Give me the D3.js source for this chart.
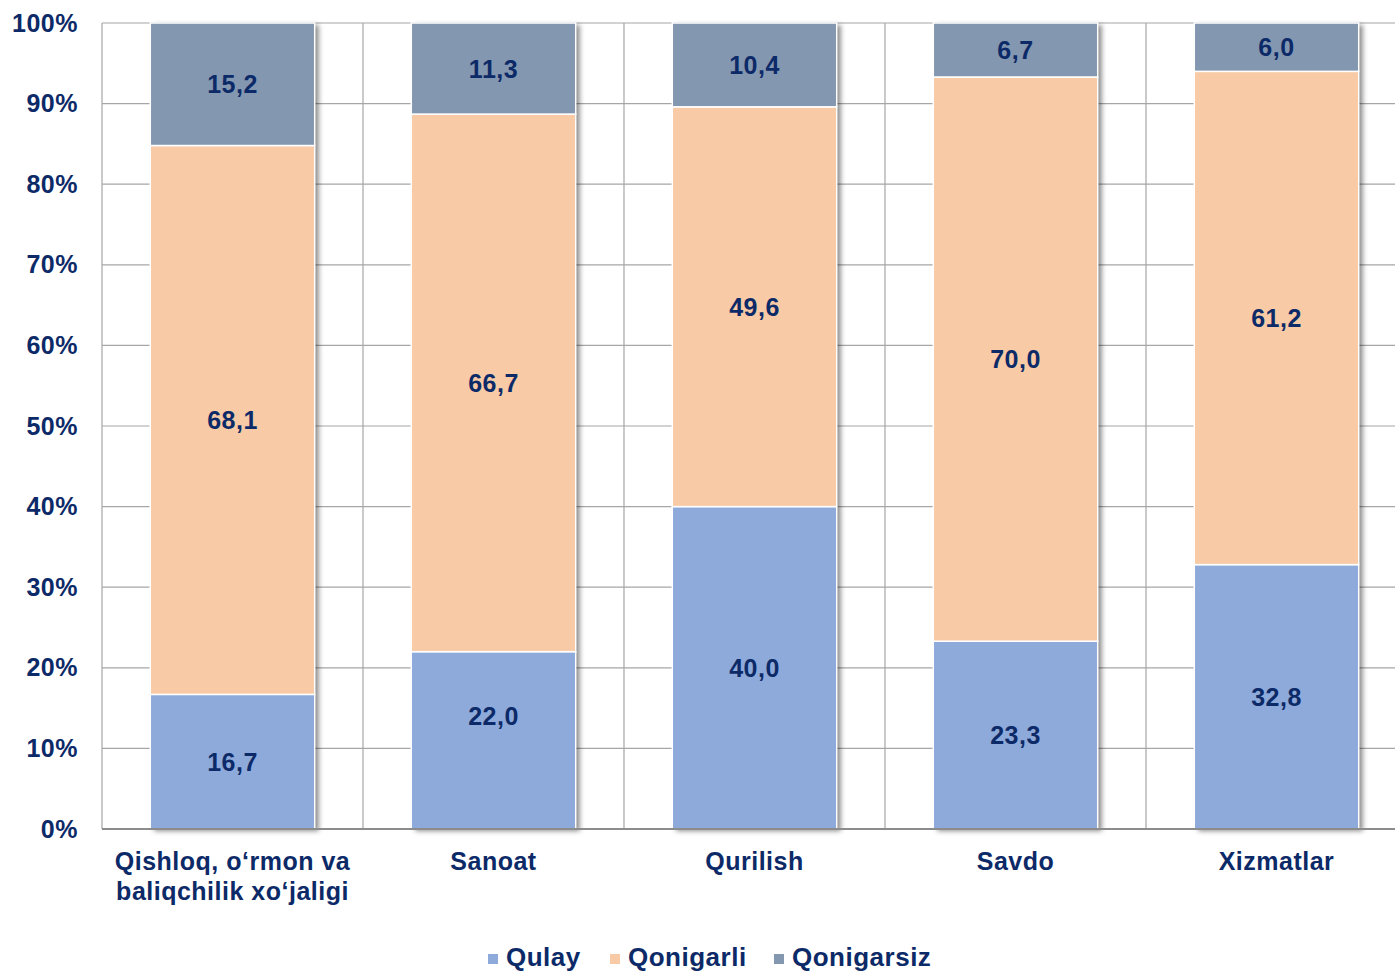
<!DOCTYPE html>
<html>
<head>
<meta charset="utf-8">
<script src="https://cdn.jsdelivr.net/npm/d3@7"></script>
<style>
  body { margin: 0; background: #fff; overflow: hidden; }
  svg { display: block; }
  text { font-family: "Liberation Sans", Arial, sans-serif; font-weight: bold; fill: #0d2a68; letter-spacing: 0.5px; }
</style>
</head>
<body>
<svg id="chart"></svg>
<script>
var categories = [["Qishloq, o\u2018rmon va", "baliqchilik xo\u2018jaligi"], ["Sanoat"], ["Qurilish"], ["Savdo"], ["Xizmatlar"]],
    seriesNames = ["Qulay", "Qonigarli", "Qonigarsiz"],
    qulay      = [16.7, 22.0, 40.0, 23.3, 32.8],
    qonigarli  = [68.1, 66.7, 49.6, 70.0, 61.2],
    qonigarsiz = [15.2, 11.3, 10.4, 6.7, 6.0],
    yTicks = [0, 10, 20, 30, 40, 50, 60, 70, 80, 90, 100],
    colors = ["#8eaadb", "#f8cba6", "#8497b0"];

var width = 1395, height = 973,
    margin = {top: 23, left: 102, bottom: 144},
    innerWidth = 1305,
    innerHeight = height - margin.top - margin.bottom;

// the one label that was nudged by hand in the original
var labelNudge = {"Sanoat|Qulay": -24};

var keys = categories.map(function(c){ return c.join(" "); });
var rows = keys.map(function(k, i){
  return {key: k, lines: categories[i], Qulay: qulay[i], Qonigarli: qonigarli[i], Qonigarsiz: qonigarsiz[i]};
});

var xScale = d3.scaleBand()
      .domain(keys)
      .range([0, innerWidth])
      .paddingInner(0.37)
      .paddingOuter(0.185),
    yScale = d3.scaleLinear()
      .domain([0, 100])
      .range([innerHeight, 0]);

var svg = d3.select("#chart")
    .attr("width", width)
    .attr("height", height);

var defs = svg.append("defs");
var shadow = defs.append("filter")
    .attr("id", "shadow")
    .attr("x", "-10%").attr("y", "-10%")
    .attr("width", "130%").attr("height", "120%");
shadow.append("feDropShadow")
    .attr("dx", 4).attr("dy", 2)
    .attr("stdDeviation", 2.5)
    .attr("flood-color", "#000")
    .attr("flood-opacity", 0.45);

var g = svg.append("g")
    .attr("transform", "translate(" + margin.left + "," + margin.top + ")");

// horizontal grid
g.append("g")
  .attr("class", "grid")
  .selectAll("line")
  .data(yTicks.slice(1))
  .enter().append("line")
    .attr("x1", 0)
    .attr("x2", width - margin.left)
    .attr("y1", function(d){ return yScale(d); })
    .attr("y2", function(d){ return yScale(d); })
    .attr("stroke", "#a6a6a6")
    .attr("stroke-width", 1.2);

// vertical grid at category boundaries
var step = xScale.step();
g.append("g")
  .selectAll("line")
  .data(keys)
  .enter().append("line")
    .attr("x1", function(d){ return xScale(d) + xScale.bandwidth() / 2 - step / 2; })
    .attr("x2", function(d){ return xScale(d) + xScale.bandwidth() / 2 - step / 2; })
    .attr("y1", 0)
    .attr("y2", innerHeight)
    .attr("stroke", "#a6a6a6")
    .attr("stroke-width", 1.2);

var stack = d3.stack().keys(seriesNames);
var stacked = stack(rows);

// white backing with shadow under each bar
g.append("g")
  .attr("filter", "url(#shadow)")
  .selectAll("rect")
  .data(rows)
  .enter().append("rect")
    .attr("x", function(d){ return xScale(d.key); })
    .attr("y", yScale(100))
    .attr("width", xScale.bandwidth())
    .attr("height", innerHeight)
    .attr("fill", "#fff");

var segs = g.append("g");
stacked.forEach(function(layer, i){
  segs.selectAll(".seg" + i)
    .data(layer)
    .enter().append("rect")
      .attr("class", "seg" + i)
      .attr("x", function(d){ return xScale(d.data.key); })
      .attr("y", function(d){ return yScale(d[1]); })
      .attr("width", xScale.bandwidth())
      .attr("height", function(d){ return yScale(d[0]) - yScale(d[1]); })
      .attr("fill", colors[i])
      .attr("stroke", "#fff")
      .attr("stroke-width", 1.5);

  segs.selectAll(".lab" + i)
    .data(layer)
    .enter().append("text")
      .attr("class", "lab" + i)
      .attr("x", function(d){ return xScale(d.data.key) + xScale.bandwidth() / 2; })
      .attr("y", function(d){
        var nudge = labelNudge[d.data.key + "|" + layer.key] || 0;
        return (yScale(d[0]) + yScale(d[1])) / 2 + nudge;
      })
      .attr("dy", "0.36em")
      .attr("text-anchor", "middle")
      .style("font-size", "25px")
      .text(function(d){ return d3.format(".1f")(d[1] - d[0]).replace(".", ","); });
});

// x axis line
g.append("line")
  .attr("x1", 0)
  .attr("x2", width - margin.left)
  .attr("y1", innerHeight)
  .attr("y2", innerHeight)
  .attr("stroke", "#8c8c8c")
  .attr("stroke-width", 2);

// y axis labels
var yAxis = d3.axisLeft(yScale)
  .tickValues(yTicks)
  .tickSize(0)
  .tickPadding(24)
  .tickFormat(function(d){ return d + "%"; });

g.append("g")
  .attr("class", "axis axis-y")
  .call(yAxis)
  .call(function(s){ s.select(".domain").remove(); })
  .selectAll("text")
    .style("font-size", "25px")
    .style("font-family", null)
    .attr("fill", null);

// category labels
var catLabels = g.append("g")
  .selectAll("text")
  .data(rows)
  .enter().append("text")
    .attr("text-anchor", "middle")
    .attr("x", function(d){ return xScale(d.key) + xScale.bandwidth() / 2; })
    .attr("y", innerHeight + 41)
    .style("font-size", "25px");

catLabels.selectAll("tspan")
  .data(function(d){ return d.lines; })
  .enter().append("tspan")
    .attr("x", function(){ var p = d3.select(this.parentNode).datum(); return xScale(p.key) + xScale.bandwidth() / 2; })
    .attr("dy", function(d, i){ return i === 0 ? 0 : 30; })
    .text(function(d){ return d; });

// legend
var legendX = [488, 610, 774];
var legend = svg.append("g")
  .selectAll("g")
  .data(seriesNames)
  .enter().append("g")
    .attr("transform", function(d, i){ return "translate(" + legendX[i] + ",966)"; });

legend.append("rect")
  .attr("x", 0)
  .attr("y", -12)
  .attr("width", 10)
  .attr("height", 10)
  .attr("fill", function(d, i){ return colors[i]; });

legend.append("text")
  .attr("x", 18)
  .attr("y", 0)
  .style("font-size", "26px")
  .text(function(d){ return d; });
</script>
</body>
</html>
